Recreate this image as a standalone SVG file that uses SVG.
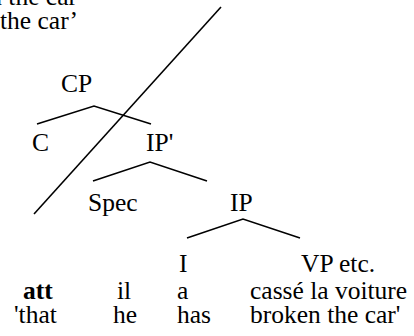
<svg xmlns="http://www.w3.org/2000/svg" width="414" height="336" viewBox="0 0 414 336">
  <style>
    .t { font-family: 'Liberation Serif', 'DejaVu Serif', 'Times New Roman', serif; font-size: 25.5px; fill: #000; }
    .b { font-weight: bold; }
    .edge { fill: none; stroke: #000; stroke-width: 1.6; stroke-linecap: butt; stroke-linejoin: miter; }
  </style>
  <rect width="414" height="336" fill="#fff"/>

  <!-- gloss lines at the top (cut by the page edge) -->
  <g id="gloss-top" class="t">
    <text x="77" y="5" text-anchor="end">has broken the car</text>
    <text x="0" y="29">the car’</text>
  </g>

  <!-- tree nodes -->
  <g id="node-CP" class="t"><text x="61" y="92">CP</text></g>
  <g id="node-C" class="t"><text x="32" y="151">C</text></g>
  <g id="node-IPbar" class="t"><text x="146" y="151">IP'</text></g>
  <g id="node-Spec" class="t"><text x="88" y="211">Spec</text></g>
  <g id="node-IP" class="t"><text x="230" y="211">IP</text></g>
  <g id="node-I" class="t"><text x="179" y="272">I</text></g>
  <g id="node-VP" class="t"><text x="301" y="272">VP etc.</text></g>

  <!-- branches and the crossing-out stroke -->
  <g id="connectors">
    <polyline class="edge" points="37,124 94,106 151,124"/>
    <polyline class="edge" points="93,181 150,162 207,181"/>
    <polyline class="edge" points="187,238 243,219 300,238"/>
    <line class="edge" x1="221" y1="7" x2="34" y2="214"/>
  </g>

  <!-- example sentence and its gloss -->
  <g id="sentence" class="t">
    <text class="b" x="23" y="299">att</text>
    <text x="117" y="299">il</text>
    <text x="177" y="299">a</text>
    <text x="250" y="299">cassé la voiture</text>
    <text x="14" y="323">'that</text>
    <text x="113" y="323">he</text>
    <text x="177" y="323">has</text>
    <text x="250" y="323">broken the car'</text>
  </g>
</svg>
